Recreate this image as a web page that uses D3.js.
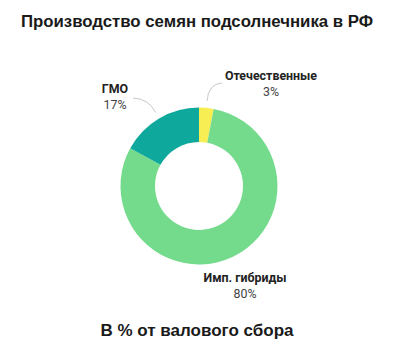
<!DOCTYPE html>
<html><head><meta charset="utf-8">
<script src="https://cdn.jsdelivr.net/npm/d3@7"></script>
<style>body{margin:0;background:#fff}svg{display:block}</style>
</head><body>
<svg id="c" width="400" height="358"></svg>
<script>
const categories = ["Отечественные", "Имп. гибриды", "ГМО"];
const values = [3, 80, 17];
const percentLabels = ["3%", "80%", "17%"];
const colors = ["#f6ee52", "#74da8c", "#0ea89c"];
const title = "Производство семян подсолнечника в РФ";
const subtitle = "В % от валового сбора";

const svg = d3.select("#c");
const cx = 199, cy = 186, rOuter = 78.5, rInner = 44;

svg.append("text").attr("x", 197).attr("y", 27).attr("text-anchor", "middle")
  .attr("font-family", "Liberation Sans, Arial, sans-serif").attr("font-weight", "bold")
  .attr("font-size", 16.8).attr("fill", "#1a1a1a").text(title);

svg.append("text").attr("x", 197).attr("y", 336).attr("text-anchor", "middle")
  .attr("font-family", "Liberation Sans, Arial, sans-serif").attr("font-weight", "bold")
  .attr("font-size", 17).attr("fill", "#1a1a1a").text(subtitle);

const pie = d3.pie().sort(null).value(d => d)(values);
const arc = d3.arc().innerRadius(rInner).outerRadius(rOuter);
const g = svg.append("g").attr("transform", `translate(${cx},${cy})`);
g.selectAll("path.s").data(pie).join("path").attr("class", "s")
  .attr("d", arc).attr("fill", (d, i) => colors[i]);

// label anchors (layout)
const labelPos = [
  {x: 271, y: 80, line: true, lx: 222, ly: 83},
  {x: 245, y: 282, line: false},
  {x: 115, y: 93, line: true, lx: 133, ly: 98}
];
pie.forEach((d, i) => {
  const lp = labelPos[i];
  if (lp.line) {
    const mid = (d.startAngle + d.endAngle) / 2;
    const r = rOuter + 7;
    const ex = cx + Math.sin(mid) * r, ey = cy - Math.cos(mid) * r;
    const r2 = rOuter + 20;
    const c1x = cx + Math.sin(mid) * r2;
    const p = d3.path();
    p.moveTo(ex, ey);
    p.quadraticCurveTo(c1x, lp.ly + (ey - lp.ly) * 0.05, lp.lx, lp.ly);
    svg.append("path").attr("d", p.toString()).attr("fill", "none")
      .attr("stroke", "#c8c8c8").attr("stroke-width", 1);
  }
  svg.append("text").attr("x", lp.x).attr("y", lp.y).attr("text-anchor", "middle")
    .attr("font-family", "Roboto, sans-serif").attr("font-weight", "bold")
    .attr("font-size", 12.4).attr("fill", "#222").text(categories[i]);
  svg.append("text").attr("x", lp.x).attr("y", lp.y + 16).attr("text-anchor", "middle")
    .attr("font-family", "Roboto, sans-serif")
    .attr("font-size", 12.4).attr("fill", "#444").text(percentLabels[i]);
});
</script>
</body></html>
